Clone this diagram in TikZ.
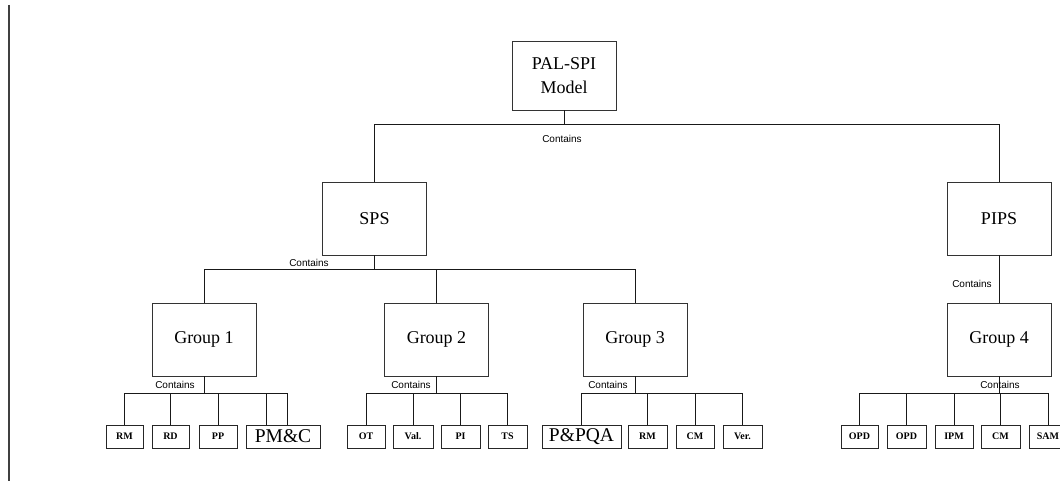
\documentclass[tikz,border=0pt]{standalone}
\usepackage{fontspec}
\setmainfont{Liberation Serif}
\newfontfamily\labelfont{Liberation Sans}
\begin{document}
\begin{tikzpicture}[x=1pt,y=-1pt,
  box/.style={draw=black!80,line width=0.9pt,rectangle,inner sep=0pt,
    minimum width=104pt,minimum height=73pt,
    font=\fontsize{18}{19}\selectfont,align=center},
  leaf/.style={draw=black!85,line width=0.9pt,rectangle,inner sep=0pt,
    minimum width=38pt,minimum height=23pt,
    font=\fontsize{10}{11}\selectfont\bfseries},
  wideleaf/.style={leaf,font=\fontsize{19.5}{20}\selectfont},
  link/.style={line width=0.9pt,draw=black!90},
  tag/.style={font=\labelfont\fontsize{10}{11}\selectfont,inner sep=0pt}]
\useasboundingbox (0,0) rectangle (1060,484);
\clip (0,0) rectangle (1060,484);

% left margin rule
\draw[line width=1.3pt,black!75] (9,5) -- (9,481);

% main boxes
\node[box,minimum height=69pt] (pal) at (564,75.5) {PAL-SPI\\[5pt]Model};
\node[box] (sps)  at (374.5,218.5) {SPS};
\node[box] (pips) at (999,218.5) {PIPS};
\node[box] (g1) at (204,339.5) {Group 1};
\node[box] (g2) at (436.5,339.5) {Group 2};
\node[box] (g3) at (635,339.5) {Group 3};
\node[box] (g4) at (999,339.5) {Group 4};

% leaf boxes
\node[leaf,minimum width=37pt] (rma) at (124.5,436.5) {RM};
\node[leaf,minimum width=37pt] (rd)  at (170.5,436.5) {RD};
\node[leaf] (pp)  at (218,436.5) {PP};
\node[wideleaf,minimum width=74pt] (pmc) at (283,436.5) {PM\&C};
\node[leaf] (ot)  at (366,436.5) {OT};
\node[leaf,minimum width=40pt] (val) at (413,436.5) {Val.};
\node[leaf,minimum width=39pt] (pi)  at (460.5,436.5) {PI};
\node[leaf,minimum width=39pt] (ts)  at (507.5,436.5) {TS};
\node[wideleaf,minimum width=79pt] (ppqa) at (581.5,436.5) {P\&PQA};
\node[leaf,minimum width=39pt] (rmb) at (647.5,436.5) {RM};
\node[leaf] (cma) at (695,436.5) {CM};
\node[leaf,minimum width=39pt] (ver) at (742.5,436.5) {Ver.};
\node[leaf,minimum width=37pt] (opda) at (859.5,436.5) {OPD};
\node[leaf,minimum width=39pt] (opdb) at (906.5,436.5) {OPD};
\node[leaf] (ipm) at (954,436.5) {IPM};
\node[leaf,minimum width=39pt] (cmb) at (1000.5,436.5) {CM};
\node[leaf] (sam) at (1048,436.5) {SAM};

% bus levels
\coordinate (b0) at (0,124);
\coordinate (b1) at (0,269);
\coordinate (b2) at (0,393);

% level 1
\foreach \c in {sps,pips}
  \draw[link] (pal.south) |- (\c.north |- b0) -- (\c.north);
% level 2
\foreach \c in {g1,g2,g3}
  \draw[link] (sps.south) |- (\c.north |- b1) -- (\c.north);
\draw[link] (pips.south) -- (g4.north);
% level 3
\foreach \c in {rma,rd,pp}
  \draw[link] (g1.south) |- (\c.north |- b2) -- (\c.north);
\draw[link] (g1.south) |- ([xshift=-17pt]pmc.north |- b2) -- ([xshift=-17pt]pmc.north);
\draw[link] (g1.south) |- ([xshift=4pt]pmc.north |- b2) -- ([xshift=4pt]pmc.north);
\foreach \c in {ot,val,pi,ts}
  \draw[link] (g2.south) |- (\c.north |- b2) -- (\c.north);
\foreach \c in {ppqa,rmb,cma,ver}
  \draw[link] (g3.south) |- (\c.north |- b2) -- (\c.north);
\foreach \c in {opda,opdb,ipm,cmb,sam}
  \draw[link] (g4.south) |- (\c.north |- b2) -- (\c.north);

% relation labels
\node[tag] (t0) at (562,139) {Contains};
\node[tag] (t1) at (309,263) {Contains};
\node[tag] (t2) at (972,284) {Contains};
\node[tag] (t3) at (175,385) {Contains};
\node[tag] (t4) at (411,385) {Contains};
\node[tag] (t5) at (608,385) {Contains};
\node[tag] (t6) at (1000,385) {Contains};
\end{tikzpicture}
\end{document}
